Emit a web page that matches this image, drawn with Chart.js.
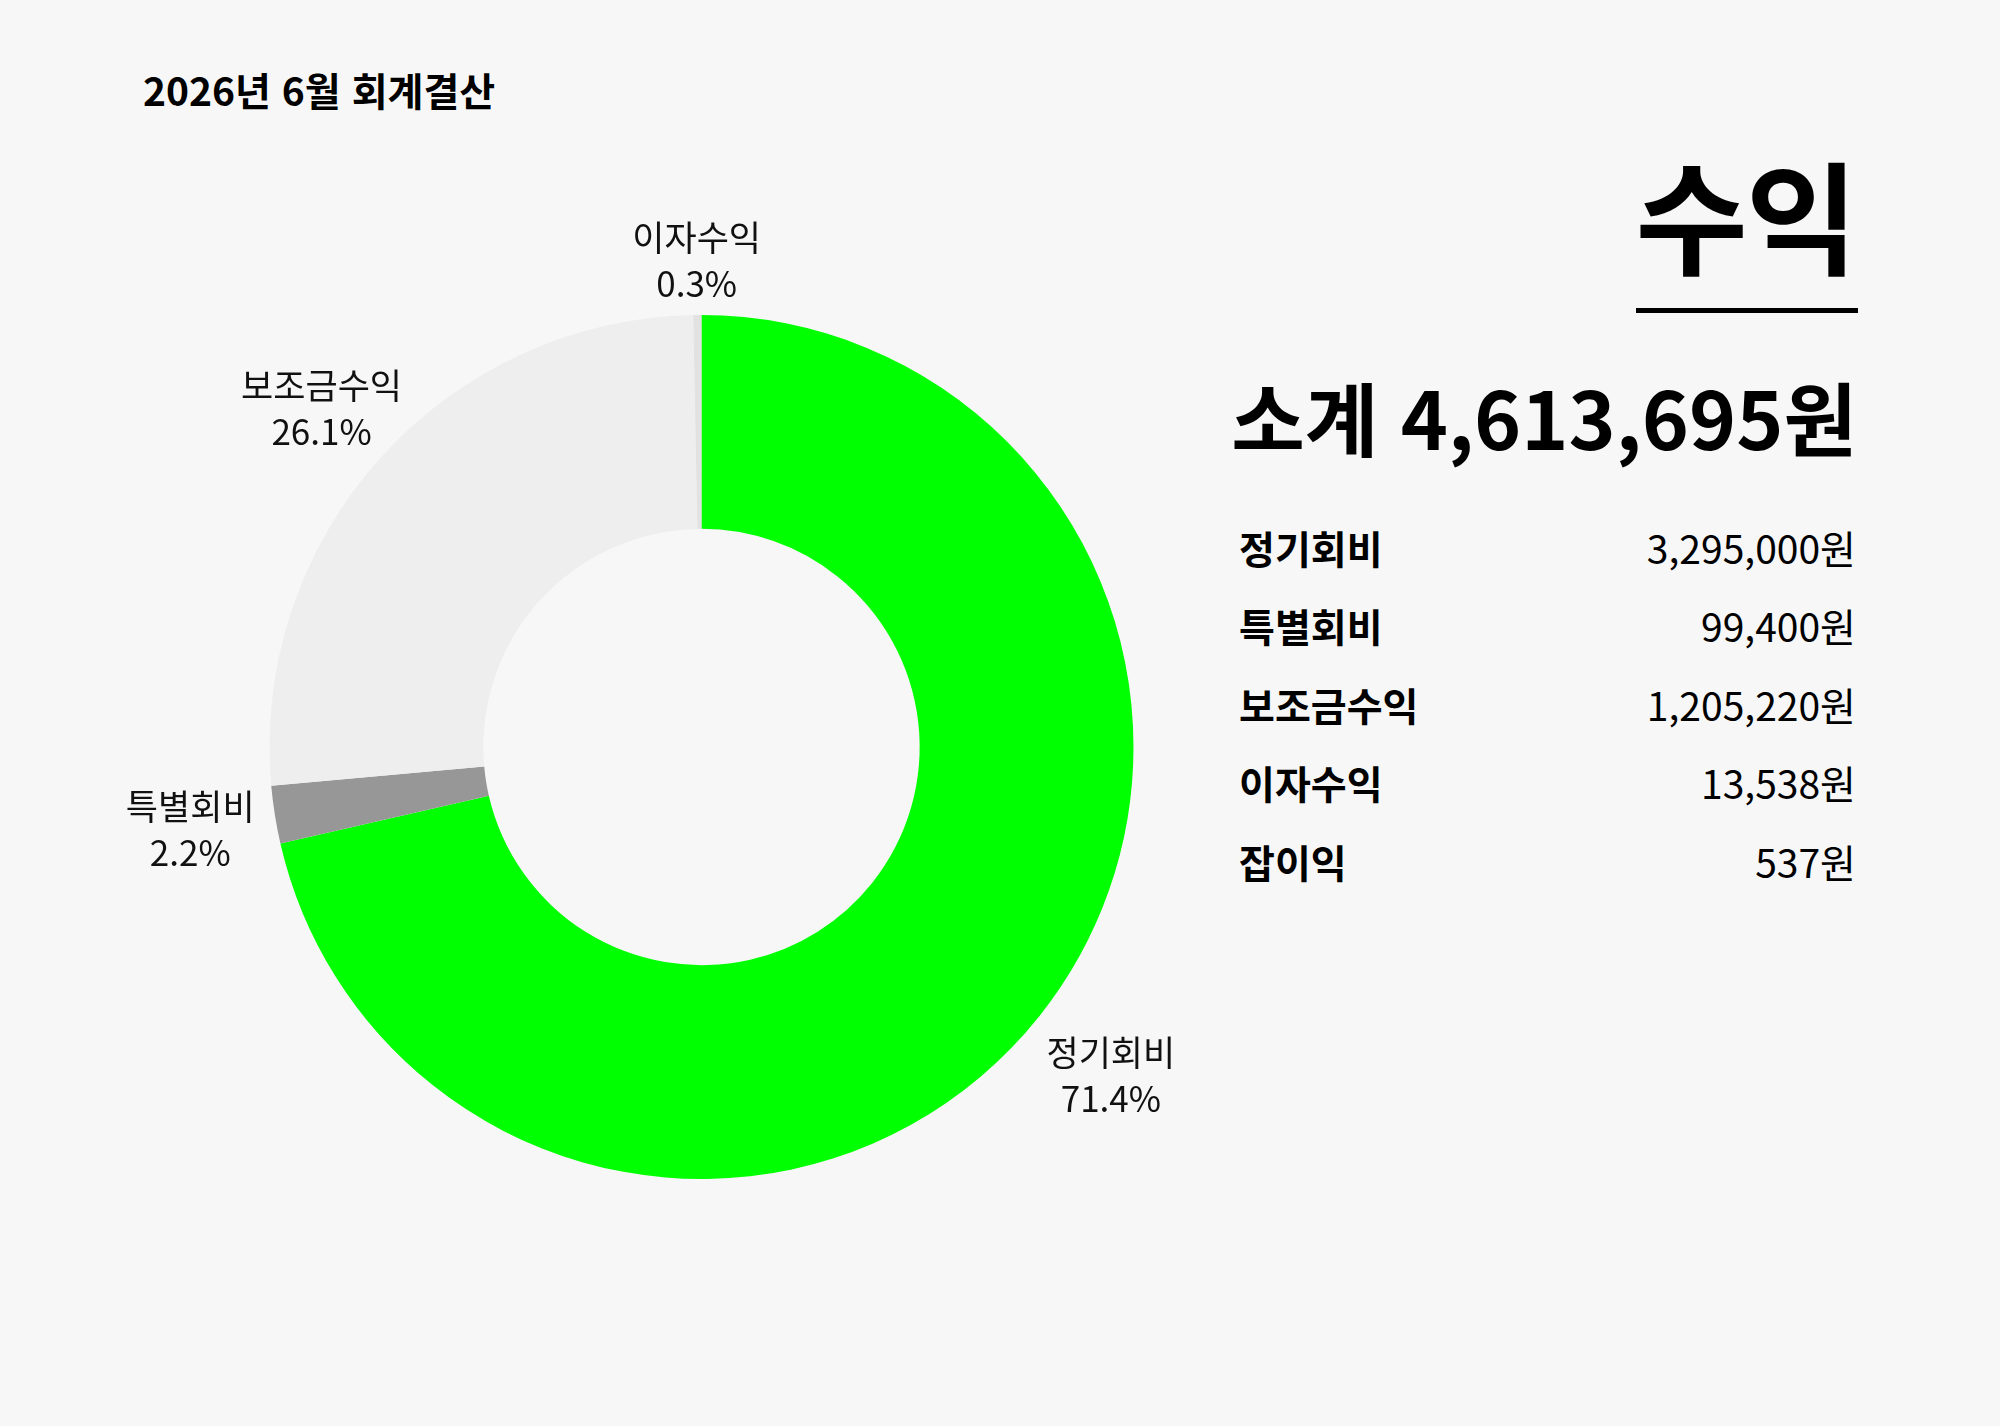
<!DOCTYPE html>
<html lang="ko">
<head>
<meta charset="utf-8">
<title>2026년 6월 회계결산</title>
<script src="https://cdn.jsdelivr.net/npm/chart.js@4.4.1/dist/chart.umd.min.js"></script>
<style>
  html, body { margin: 0; padding: 0; }
  body {
    width: 2000px; height: 1426px; background: #f7f7f7; position: relative; overflow: hidden;
    font-family: "Noto Sans CJK KR", "Noto Sans", sans-serif; color: #000;
  }
  #title { position: absolute; left: 143px; top: 63px; font-size: 39px; font-weight: 700; line-height: 52px; }
  #wrap { position: absolute; left: 0; top: 0; width: 1200px; height: 1426px; }
  #side { position: absolute; left: 1220px; width: 638px; top: 0; }
  #head { position: absolute; right: 2px; top: 132px; font-size: 122px; font-weight: 700; line-height: 160px; letter-spacing: -2px; }
  #rule { position: absolute; right: 0; top: 308px; width: 222px; height: 5px; background: #000; }
  #total { position: absolute; right: 1px; top: 365px; font-size: 80px; font-weight: 700; line-height: 100px; white-space: nowrap; }
  .row { position: absolute; left: 19px; right: 2px; height: 56px; line-height: 56px; font-size: 39px; }
  .row .k { position: absolute; left: 0; font-weight: 700; }
  .row .v { position: absolute; right: 0; font-weight: 400; }
</style>
</head>
<body>
<div id="title">2026년 6월 회계결산</div>
<div id="wrap"><canvas id="canvas"></canvas></div>
<div id="side">
  <div id="head">수익</div>
  <div id="rule"></div>
  <div id="total"></div>
  <div id="rows"></div>
</div>
<script>
// 수익 항목
var CATEGORIES = ['정기회비', '특별회비', '보조금수익', '이자수익', '잡이익'];
var AMOUNTS = [3295000, 99400, 1205220, 13538, 537];
var COLORS = ['#00ff00', '#979797', '#eeeeee', '#e2e2e2', '#d6d6d6'];
var ROW_TOP = [519, 597, 676, 754, 833];

var TOTAL = 0;
for (var i = 0; i < AMOUNTS.length; i++) TOTAL += AMOUNTS[i];

function won(n){
    return n.toString().replace(/\B(?=(\d{3})+(?!\d))/g, ',') + '원';
}

document.getElementById('total').textContent = '소계 ' + won(TOTAL);
var rows = document.getElementById('rows');
for (var i = 0; i < CATEGORIES.length; i++) {
    var r = document.createElement('div');
    r.className = 'row';
    r.style.top = ROW_TOP[i] + 'px';
    r.innerHTML = '<span class="k">' + CATEGORIES[i] + '</span><span class="v">' + won(AMOUNTS[i]) + '</span>';
    rows.appendChild(r);
}

// 도넛 바깥 라벨
var outLabels = {
    id: 'outLabels',
    afterDatasetsDraw: function(chart){
        var ctx = chart.ctx;
        var meta = chart.getDatasetMeta(0);
        ctx.save();
        ctx.font = '400 35px "Noto Sans CJK KR"';
        ctx.fillStyle = '#111';
        ctx.textAlign = 'center';
        ctx.textBaseline = 'middle';
        meta.data.forEach(function(arc, i){
            var pct = AMOUNTS[i] / TOTAL * 100;
            if (pct < 0.1) return;
            var p = arc.getProps(['x', 'y', 'startAngle', 'endAngle', 'outerRadius'], true);
            var mid = (p.startAngle + p.endAngle) / 2;
            var ux = Math.cos(mid), uy = Math.sin(mid);
            var d = p.outerRadius + 56 + 30 * Math.abs(ux) + (ux > 0 && uy > 0 ? 12 : 0);
            var cx = p.x + ux * d, cy = p.y + uy * d + 2;
            ctx.fillText(CATEGORIES[i], cx, cy - 23);
            ctx.fillText(pct.toFixed(1) + '%', cx, cy + 23);
        });
        ctx.restore();
    }
};

var config = {
    type: 'doughnut',
    data: {
        labels: CATEGORIES,
        datasets: [{ data: AMOUNTS, backgroundColor: COLORS, borderWidth: 0 }]
    },
    options: {
        responsive: true,
        maintainAspectRatio: false,
        animation: false,
        cutout: '50.5%',
        layout: { padding: { left: 269.5, top: 315, right: 66.5, bottom: 247 } },
        plugins: { legend: { display: false }, tooltip: { enabled: false } }
    },
    plugins: [outLabels]
};
var chart = new Chart(document.getElementById('canvas').getContext('2d'), config);
</script>
</body>
</html>
